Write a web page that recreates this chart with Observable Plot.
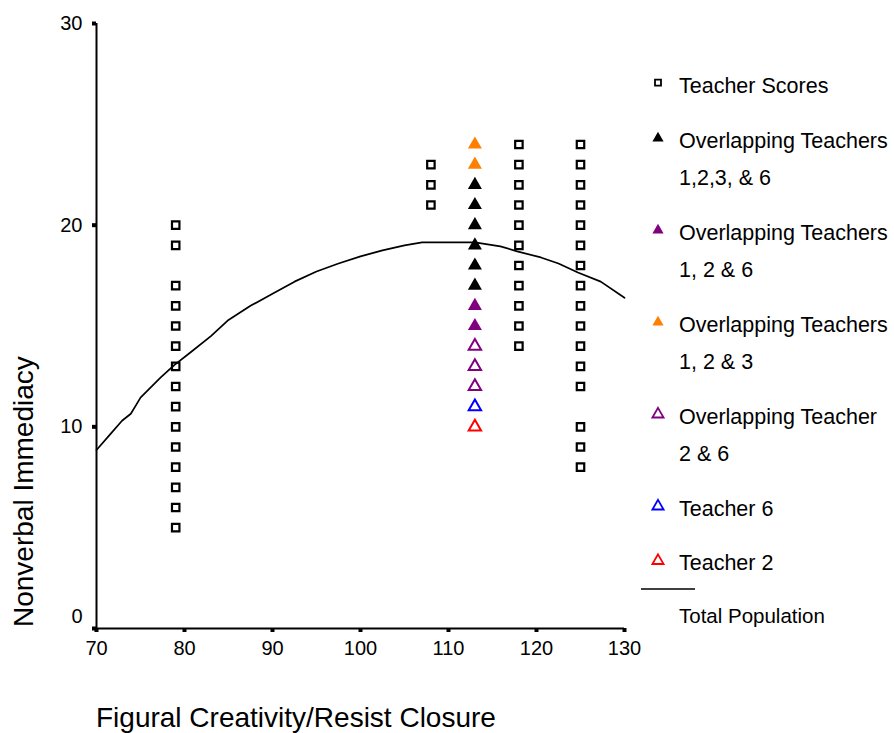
<!DOCTYPE html>
<html>
<head>
<meta charset="utf-8">
<script src="https://cdn.jsdelivr.net/npm/d3@7"></script>
<script src="https://cdn.jsdelivr.net/npm/@observablehq/plot@0.6"></script>
<style>
  body { margin: 0; background: #fff; }
  #chart { width: 894px; height: 733px; }
</style>
</head>
<body>
<div id="chart"></div>
<script>
// Axis ticks
const xTicks = [70, 80, 90, 100, 110, 120, 130];
const yTicks = [0, 10, 20, 30];

// Teacher score columns: creativity score -> immediacy scores
const col79 = [20, 19, 17, 16, 15, 14, 13, 12, 11, 10, 9, 8, 7, 6, 5];
const col108 = [23, 22, 21];
const col118 = [24, 23, 22, 21, 20, 19, 18, 17, 16, 15, 14];
const col125 = [24, 23, 22, 21, 20, 19, 18, 17, 16, 15, 14, 13, 12, 10, 9, 8];

// Overlapping teachers, all at creativity score 113
const overlapX = 113;
const overlap1236 = [22, 21, 20, 19, 18, 17];
const overlap126 = [16, 15];
const overlap123 = [24, 23];
const overlap26 = [14, 13, 12];
const teacher6 = [11];
const teacher2 = [10];

// Total population trend
const popX = [70, 71.6, 72.9, 73.9, 74.8, 75, 77.3, 78.8, 80.7, 83, 85, 87.5, 90, 92.5, 95, 97.5, 100, 102.5, 105, 107, 113, 115.9, 117.8, 120.5, 122.5, 124.7, 127.3, 130];
const popY = [8.85, 9.65, 10.3, 10.65, 11.3, 11.45, 12.45, 13.05, 13.7, 14.5, 15.3, 16.0, 16.6, 17.2, 17.7, 18.1, 18.45, 18.75, 19.0, 19.15, 19.15, 18.95, 18.7, 18.4, 18.1, 17.65, 17.2, 16.4];

const BLACK = "#000000", PURPLE = "#800080", ORANGE = "#FF8000", BLUE = "#0000FF", RED = "#FF0000";
const font = "'Liberation Sans', Arial, Helvetica, sans-serif";

const scores = [
  ...col79.map(y => ({x: 79, y})),
  ...col108.map(y => ({x: 108, y})),
  ...col118.map(y => ({x: 118, y})),
  ...col125.map(y => ({x: 125, y}))
];
const at113 = arr => arr.map(y => ({x: overlapX, y}));
const population = popX.map((x, i) => ({x, y: popY[i]}));

const triR = 5.2;
const svg = Plot.plot({
  width: 894,
  height: 733,
  marginLeft: 96,
  marginRight: 270,
  marginTop: 23,
  marginBottom: 105,
  x: {domain: [70, 130]},
  y: {domain: [0, 30]},
  style: {fontFamily: font, fontSize: "20px", color: "#000", background: "#fff", overflow: "visible"},
  marks: [
    Plot.ruleX([70], {stroke: BLACK, strokeWidth: 2}),
    Plot.ruleY([0], {stroke: BLACK, strokeWidth: 2}),
    Plot.axisX(xTicks, {tickSize: 4, strokeWidth: 4, tickPadding: 8, label: null, fontSize: 20}),
    Plot.axisY(yTicks, {tickSize: 4, strokeWidth: 4, tickPadding: 10, label: null, fontSize: 20, tickFormat: d => d === 0 ? "" : String(d)}),
    Plot.axisY([0], {tickSize: 0, tickPadding: 14, label: null, fontSize: 20, dy: -12}),
    Plot.line(population, {x: "x", y: "y", stroke: BLACK, strokeWidth: 1.7}),
    Plot.dot(scores, {x: "x", y: "y", symbol: "square", r: 4.2, fill: "none", stroke: BLACK, strokeWidth: 2.2}),
    Plot.dot(at113(overlap123), {x: "x", y: "y", symbol: "triangle", r: triR, fill: ORANGE, stroke: "none"}),
    Plot.dot(at113(overlap1236), {x: "x", y: "y", symbol: "triangle", r: triR, fill: BLACK, stroke: "none"}),
    Plot.dot(at113(overlap126), {x: "x", y: "y", symbol: "triangle", r: triR, fill: PURPLE, stroke: "none"}),
    Plot.dot(at113(overlap26), {x: "x", y: "y", symbol: "triangle", r: 4.6, fill: "none", stroke: PURPLE, strokeWidth: 2}),
    Plot.dot(at113(teacher6), {x: "x", y: "y", symbol: "triangle", r: 4.6, fill: "none", stroke: BLUE, strokeWidth: 2}),
    Plot.dot(at113(teacher2), {x: "x", y: "y", symbol: "triangle", r: 4.6, fill: "none", stroke: RED, strokeWidth: 2})
  ]
});

const root = d3.select(svg);

// Axis titles
root.append("text")
  .attr("x", 96).attr("y", 727)
  .attr("text-anchor", "start")
  .attr("font-size", 28).attr("fill", "#000")
  .text("Figural Creativity/Resist Closure");
root.append("text")
  .attr("transform", "translate(33,627) rotate(-90)")
  .attr("text-anchor", "start")
  .attr("font-size", 28).attr("fill", "#000")
  .text("Nonverbal Immediacy");

// Legend
const legendItems = [
  {lines: ["Teacher Scores"], symbol: "square", fill: "none", stroke: BLACK},
  {lines: ["Overlapping Teachers", "1,2,3, & 6"], symbol: "triangle", fill: BLACK, stroke: "none"},
  {lines: ["Overlapping Teachers", "1, 2 & 6"], symbol: "triangle", fill: PURPLE, stroke: "none"},
  {lines: ["Overlapping Teachers", "1, 2 & 3"], symbol: "triangle", fill: ORANGE, stroke: "none"},
  {lines: ["Overlapping Teacher", "2 & 6"], symbol: "triangle", fill: "none", stroke: PURPLE},
  {lines: ["Teacher 6"], symbol: "triangle", fill: "none", stroke: BLUE},
  {lines: ["Teacher 2"], symbol: "triangle", fill: "none", stroke: RED}
];
const legend = root.append("g")
  .attr("font-size", 21.5).attr("fill", "#000")
  .attr("text-anchor", "start");
const symX = 658, textX = 679;
let baseline = 93;
for (const item of legendItems) {
  const isSquare = item.symbol === "square";
  const path = isSquare
    ? d3.symbol(d3.symbolSquare, 36)()
    : d3.symbol(d3.symbolTriangle, 54)();
  legend.append("path")
    .attr("d", path)
    .attr("transform", `translate(${symX},${baseline - (isSquare ? 10.3 : 9.2)})`)
    .attr("fill", item.fill)
    .attr("stroke", item.stroke)
    .attr("stroke-width", 1.8);
  item.lines.forEach((line, i) => {
    legend.append("text")
      .attr("x", textX).attr("y", baseline + i * 37.5)
      .text(line);
  });
  baseline += 54.5 + 37.5 * (item.lines.length - 1);
}
legend.append("line")
  .attr("x1", 641).attr("x2", 695)
  .attr("y1", 589).attr("y2", 589)
  .attr("stroke", BLACK).attr("stroke-width", 1.5);
legend.append("text")
  .attr("x", textX).attr("y", 623)
  .attr("font-size", 20.5)
  .text("Total Population");

document.getElementById("chart").appendChild(svg);
</script>
</body>
</html>
